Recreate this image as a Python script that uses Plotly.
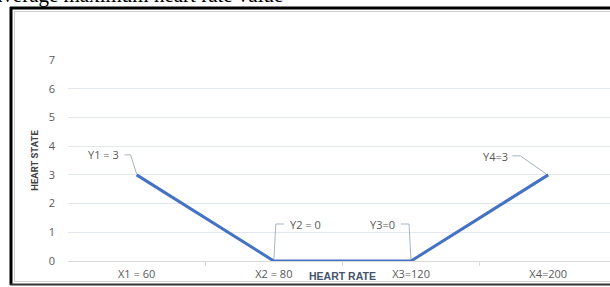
import plotly.graph_objects as go

# ---- data ----
categories = ["X1 = 60", "X2 = 80", "X3=120", "X4=200"]
heart_state = [3, 0, 0, 3]
point_labels = ["Y1 = 3", "Y2 = 0", "Y3=0", "Y4=3"]
y_ticks = [0, 1, 2, 3, 4, 5, 6, 7]

# ---- layout geometry (pixels) ----
W, H = 610, 287
ML, MR, MT, MB = 68, 0, 60, 26
plot_w = W - ML - MR
plot_h = H - MT - MB
x_range = [-0.5, 3.45]
y_range = [0, 7]
px_x = plot_w / (x_range[1] - x_range[0])
px_y = plot_h / (y_range[1] - y_range[0])

# label centre offsets and leader paths, in pixels relative to the point (up = +)
label_offsets = [(-33, 20), (32, 37), (-29, 37), (-53, 18)]
leader_offsets = [
    [(-12, 20), (-6, 20), (0, 1)],
    [(10, 37), (2, 37), (0, 0)],
    [(-10, 37), (-2, 37), (0, 0)],
    [(-36, 19), (-28, 19), (-2, 1)],
]

xs = list(range(len(categories)))

fig = go.Figure()

# leader lines
for i, path in enumerate(leader_offsets):
    fig.add_trace(go.Scatter(
        x=[xs[i] + dx / px_x for dx, dy in path],
        y=[heart_state[i] + dy / px_y for dx, dy in path],
        mode="lines", line=dict(color="#A6B3C4", width=1),
        hoverinfo="skip", showlegend=False, cliponaxis=False))

fig.add_trace(go.Scatter(
    x=xs, y=heart_state, mode="lines",
    line=dict(color="#4472C4", width=3),
    showlegend=False, cliponaxis=False))

LBL_FONT = dict(family="Open Sans", size=11, color="#595959")

annotations = []
for i, (dx, dy) in enumerate(label_offsets):
    annotations.append(dict(
        x=xs[i] + dx / px_x, y=heart_state[i] + dy / px_y,
        xref="x", yref="y", text=point_labels[i], showarrow=False,
        xanchor="center", yanchor="middle", font=LBL_FONT))

def paper_x(px):
    return (px - ML) / plot_w

def paper_y(py):
    return (H - MB - py) / plot_h

# x axis title, sitting on the tick-label row between X2 and X3
annotations.append(dict(
    x=1.5, y=paper_y(276), xref="x", yref="paper", showarrow=False,
    xanchor="center", yanchor="middle",
    text="<b>HEART RATE</b>",
    font=dict(family="Liberation Sans", size=10.5, color="#44546A")))

# cut-off caption text at top
annotations.append(dict(
    x=paper_x(-9), y=paper_y(-5.5), xref="paper", yref="paper",
    xanchor="left", yanchor="middle", showarrow=False,
    text="average maximum heart rate value",
    font=dict(family="Liberation Serif", size=21, color="#000000")))

shapes = [
    # outer black frame
    dict(type="line", xref="paper", yref="paper", x0=paper_x(11), x1=paper_x(11),
         y0=paper_y(7), y1=paper_y(285), line=dict(color="#000000", width=3)),
    dict(type="line", xref="paper", yref="paper", x0=paper_x(10), x1=paper_x(615),
         y0=paper_y(8), y1=paper_y(8), line=dict(color="#000000", width=3)),
    dict(type="line", xref="paper", yref="paper", x0=paper_x(10), x1=paper_x(615),
         y0=paper_y(284.5), y1=paper_y(284.5), line=dict(color="#333333", width=2)),
    # inner light chart-area border
    dict(type="line", xref="paper", yref="paper", x0=paper_x(14.5), x1=paper_x(14.5),
         y0=paper_y(11), y1=paper_y(282), line=dict(color="#D0D0D0", width=1)),
    dict(type="line", xref="paper", yref="paper", x0=paper_x(14), x1=paper_x(615),
         y0=paper_y(11.5), y1=paper_y(11.5), line=dict(color="#D0D0D0", width=1)),
    dict(type="line", xref="paper", yref="paper", x0=paper_x(14), x1=paper_x(615),
         y0=paper_y(281.5), y1=paper_y(281.5), line=dict(color="#D0D0D0", width=1)),
]

fig.update_layout(
    width=W, height=H,
    margin=dict(l=ML, r=MR, t=MT, b=MB, pad=0),
    paper_bgcolor="#FFFFFF", plot_bgcolor="#FFFFFF",
    annotations=annotations, shapes=shapes,
    xaxis=dict(
        range=x_range, tickmode="array", tickvals=xs, ticktext=categories,
        showgrid=False, zeroline=False, showline=True, linecolor="#D9D9D9", linewidth=1,
        ticks="", ticklabelstandoff=3,
        tickfont=LBL_FONT,
        minor=dict(tickmode="array", tickvals=[0.5, 1.5, 2.5], ticks="outside",
                   ticklen=4, tickcolor="#D9D9D9", showgrid=False),
        fixedrange=True,
    ),
    yaxis=dict(
        range=y_range, tickmode="array", tickvals=y_ticks,
        showgrid=True, gridcolor="#E3E8EF", gridwidth=1, zeroline=False,
        showline=False, ticks="", ticklabelstandoff=12,
        tickfont=LBL_FONT,
        title=dict(text="<b>HEART STATE</b>", standoff=8,
                   font=dict(family="Roboto", size=9.5, color="#404040")),
        fixedrange=True,
    ),
)

fig.write_html("out.html", config={"displayModeBar": False},
               post_script="document.body.style.margin='0';document.body.style.overflow='hidden';")
